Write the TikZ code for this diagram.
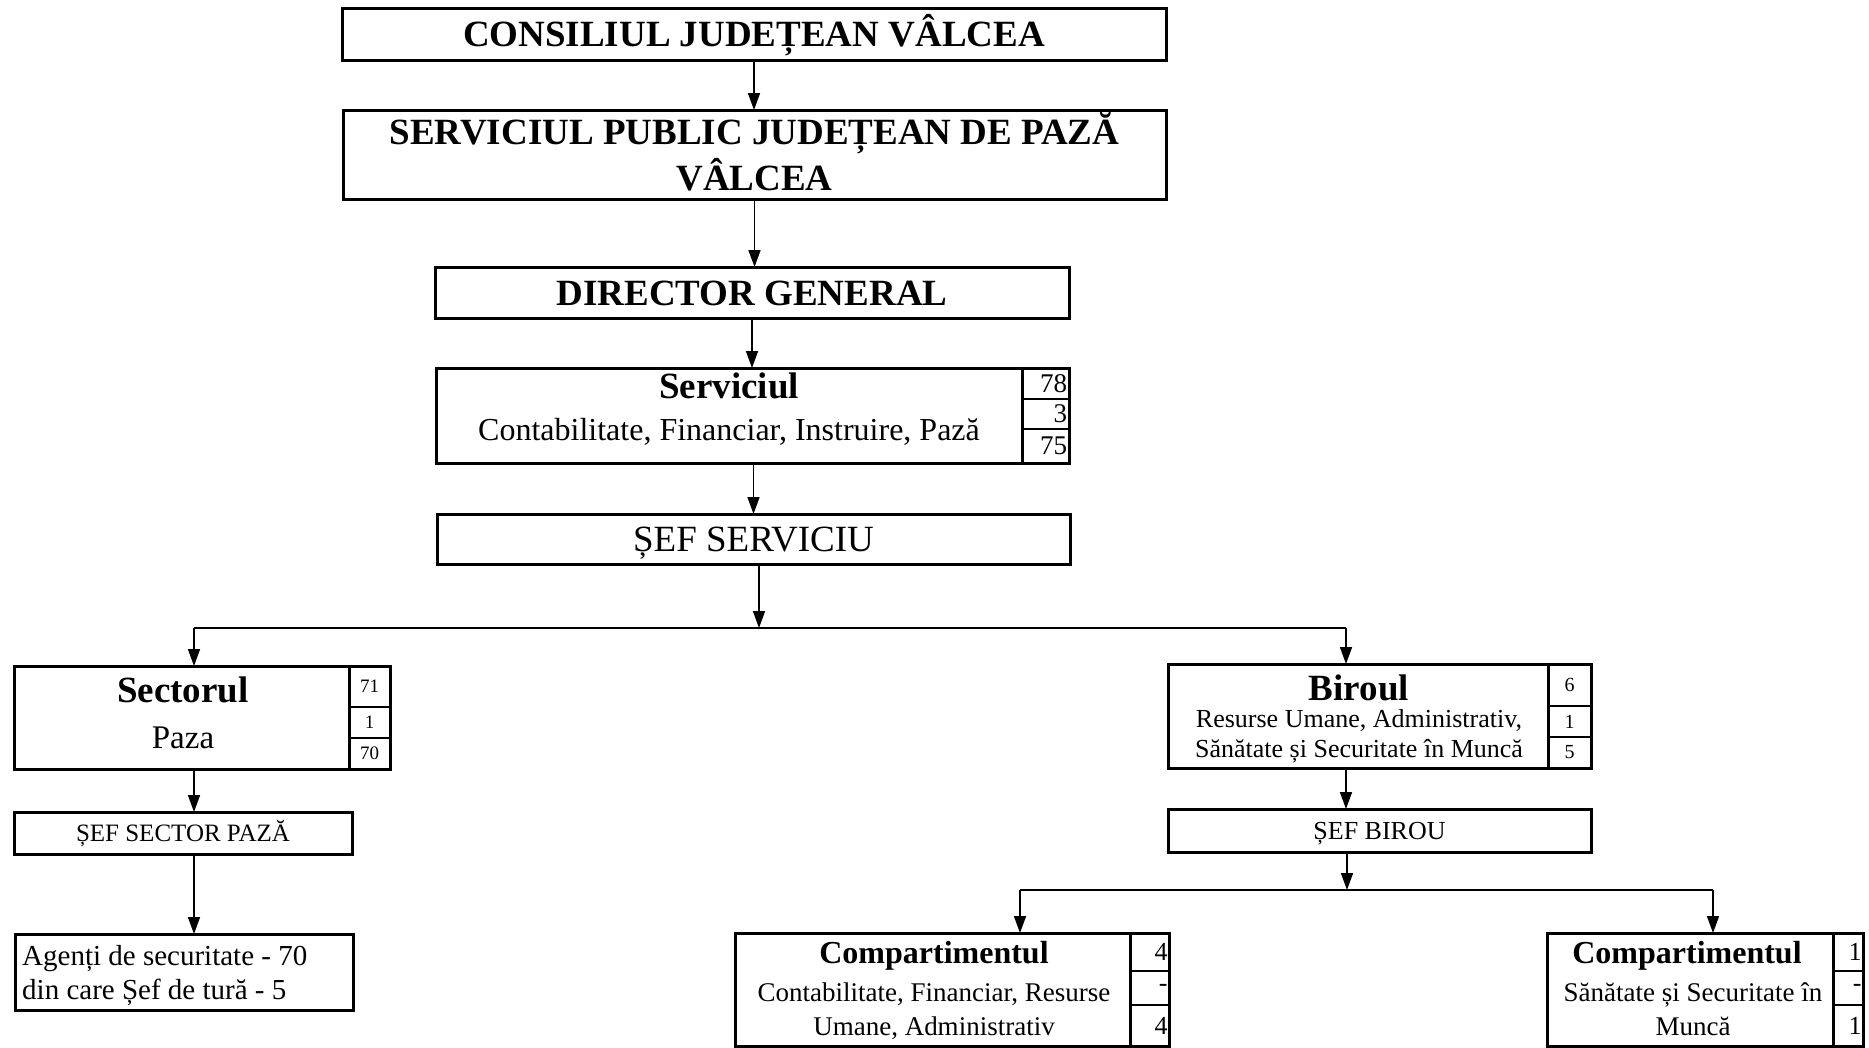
\documentclass[tikz,border=0pt]{standalone}
\usepackage{fontspec}
\setmainfont{Liberation Serif}
\usetikzlibrary{arrows.meta, positioning}

\tikzset{
  box/.style={draw, line width=3pt, inner sep=0pt, outer sep=0pt},
  cell/.style={draw, line width=1.6pt, inner sep=0pt, outer sep=0pt},
  arr/.style={line width=1.6pt, -{Triangle[length=17pt,width=12pt]}},
  bus/.style={line width=1.6pt},
  big/.style={font=\fontsize{37}{44}\selectfont\bfseries},
}

\begin{document}
\begin{tikzpicture}[x=1pt, y=-1pt, line join=miter]
\useasboundingbox (0,0) rectangle (1869,1047);

% Upper levels
\node [box, big, minimum width=824pt, minimum height=52pt, text height=25pt, text depth=0pt] (cj) at (754,34) {CONSILIUL JUDEȚEAN VÂLCEA};
\node [box, minimum width=823pt, minimum height=89pt] (sp) at (754.5,154.5) {};
\node [anchor=base, big] (spA) at (754.5,144) {SERVICIUL PUBLIC JUDEȚEAN DE PAZĂ};
\node [anchor=base, big] (spB) at (754.5,190) {VÂLCEA};
\node [box, big, minimum width=634pt, minimum height=51pt, text height=25pt, text depth=0pt] (dg) at (752,292.5) {DIRECTOR GENERAL};

% Serviciul
\node [box, minimum width=586pt, minimum height=95pt] (serv) at (729,415.5) {};
\node [anchor=base, big] (servT) at (729,398) {Serviciul};
\node [anchor=base, font=\fontsize{32}{38}\selectfont] (servD) at (729,440) {Contabilitate, Financiar, Instruire, Pază};
\foreach \n/\y/\h/\v in {A/383.5/31pt/78, B/414/30pt/3, C/446/34pt/75}
  \node [cell, minimum width=47pt, minimum height=\h, text width=43pt, align=right, font=\fontsize{27}{30}\selectfont] (serv\n) at (1045.5,\y) {\v};
\draw [line width=3pt] (serv.north west) rectangle (servC.south east);

\node [box, minimum width=633pt, minimum height=50pt, font=\fontsize{37}{44}\selectfont, text height=25pt, text depth=0pt] (ss) at (753.5,539) {ȘEF SERVICIU};

% Sectorul
\node [box, minimum width=335pt, minimum height=103pt] (sect) at (181.5,717.5) {};
\node [anchor=base, big] (sectT) at (183,702) {Sectorul};
\node [anchor=base, font=\fontsize{33}{38}\selectfont] (sectD) at (183,748) {Paza};
\foreach \n/\y/\h/\v in {A/686.5/41pt/71, B/722.5/31pt/1, C/753.5/31pt/70}
  \node [cell, minimum width=41pt, minimum height=\h, font=\fontsize{19}{22}\selectfont] (sect\n) at (369.5,\y) {\v};
\draw [line width=3pt] (sect.north west) rectangle (sectC.south east);

\node [box, minimum width=338pt, minimum height=42pt, font=\fontsize{25}{30}\selectfont, text height=17pt, text depth=0pt] (ssp) at (183,833) {ȘEF SECTOR PAZĂ};
\node [box, minimum width=338pt, minimum height=76pt] (ag) at (184,972) {};
\node [anchor=base west, inner sep=0pt, font=\fontsize{29}{36}\selectfont] (agA) at (22,965) {Agenți de securitate - 70};
\node [anchor=base west, inner sep=0pt, font=\fontsize{29}{36}\selectfont] (agB) at (22,999) {din care Șef de tură - 5};

% Biroul
\node [box, minimum width=380pt, minimum height=104pt] (bir) at (1358,716) {};
\node [anchor=base, big] (birT) at (1359,700) {Biroul};
\node [anchor=base, font=\fontsize{26}{30}\selectfont] (birD) at (1359,727) {Resurse Umane, Administrativ,};
\node [anchor=base, font=\fontsize{26}{30}\selectfont] (birE) at (1359,757) {Sănătate și Securitate în Muncă};
\foreach \n/\y/\h/\v in {A/685/42pt/6, B/721.5/31pt/1, C/752.5/31pt/5}
  \node [cell, minimum width=43pt, minimum height=\h, font=\fontsize{20}{24}\selectfont] (bir\n) at (1569.5,\y) {\v};
\draw [line width=3pt] (bir.north west) rectangle (birC.south east);

\node [box, minimum width=423pt, minimum height=43pt, font=\fontsize{26}{30}\selectfont, text height=17pt, text depth=0pt] (sb) at (1379.5,830.5) {ȘEF BIROU};

% Compartimente
\node [box, minimum width=395pt, minimum height=113pt] (cl) at (932.5,989.5) {};
\node [anchor=base, font=\fontsize{32}{38}\selectfont\bfseries] (clT) at (934,963) {Compartimentul};
\node [anchor=base, font=\fontsize{27}{32}\selectfont] (clD) at (934,1001) {Contabilitate, Financiar, Resurse};
\node [anchor=base, font=\fontsize{27}{32}\selectfont] (clE) at (934,1035) {Umane, Administrativ};
\foreach \n/\y/\h/\v in {A/952/38pt/4, B/988/34pt/-, C/1025.5/41pt/4}
  \node [cell, minimum width=39pt, minimum height=\h, text width=36pt, align=right, font=\fontsize{26}{30}\selectfont] (cl\n) at (1149.5,\y) {\v};
\draw [line width=3pt] (cl.north west) rectangle (clC.south east);

\node [box, minimum width=286pt, minimum height=113pt] (cr) at (1690,989.5) {};
\node [anchor=base, font=\fontsize{32}{38}\selectfont\bfseries] (crT) at (1687,963) {Compartimentul};
\node [anchor=base, font=\fontsize{27}{32}\selectfont] (crD) at (1693,1001) {Sănătate și Securitate în};
\node [anchor=base, font=\fontsize{27}{32}\selectfont] (crE) at (1693,1035) {Muncă};
\foreach \n/\y/\h/\v in {A/952/38pt/1, B/988/34pt/-, C/1025.5/41pt/1}
  \node [cell, minimum width=30pt, minimum height=\h, text width=27pt, align=right, font=\fontsize{26}{30}\selectfont] (cr\n) at (1848,\y) {\v};
\draw [line width=3pt] (cr.north west) rectangle (crC.south east);

% Bus points
\coordinate (busM) at (759,628);
\coordinate (busL) at (194,628);
\coordinate (busR) at (1346,628);
\coordinate (busB) at (1347,890);
\coordinate (busBL) at (1020,890);
\coordinate (busBR) at (1713,890);

% Connectors
\draw [arr] (cj.south) -- (cj.south |- sp.north);
\draw [arr] (sp.south) -- (sp.south |- dg.north);
\draw [arr] (dg.south) -- (dg.south |- serv.north);
\draw [arr] (ss.north |- serv.south) -- (ss.north);
\draw [arr] (busM |- ss.south) -- (busM);
\draw [bus] (busL) -- (busR);
\draw [arr] (busL) -- (busL |- sect.north);
\draw [arr] (busR) -- (busR |- bir.north);
\draw [arr] (busL |- sect.south) -- (busL |- ssp.north);
\draw [arr] (busL |- ssp.south) -- (busL |- ag.north);
\draw [arr] (busR |- bir.south) -- (busR |- sb.north);
\draw [arr] (busB |- sb.south) -- (busB);
\draw [bus] (busBL) -- (busBR);
\draw [arr] (busBL) -- (busBL |- cl.north);
\draw [arr] (busBR) -- (busBR |- cr.north);
\end{tikzpicture}
\end{document}
